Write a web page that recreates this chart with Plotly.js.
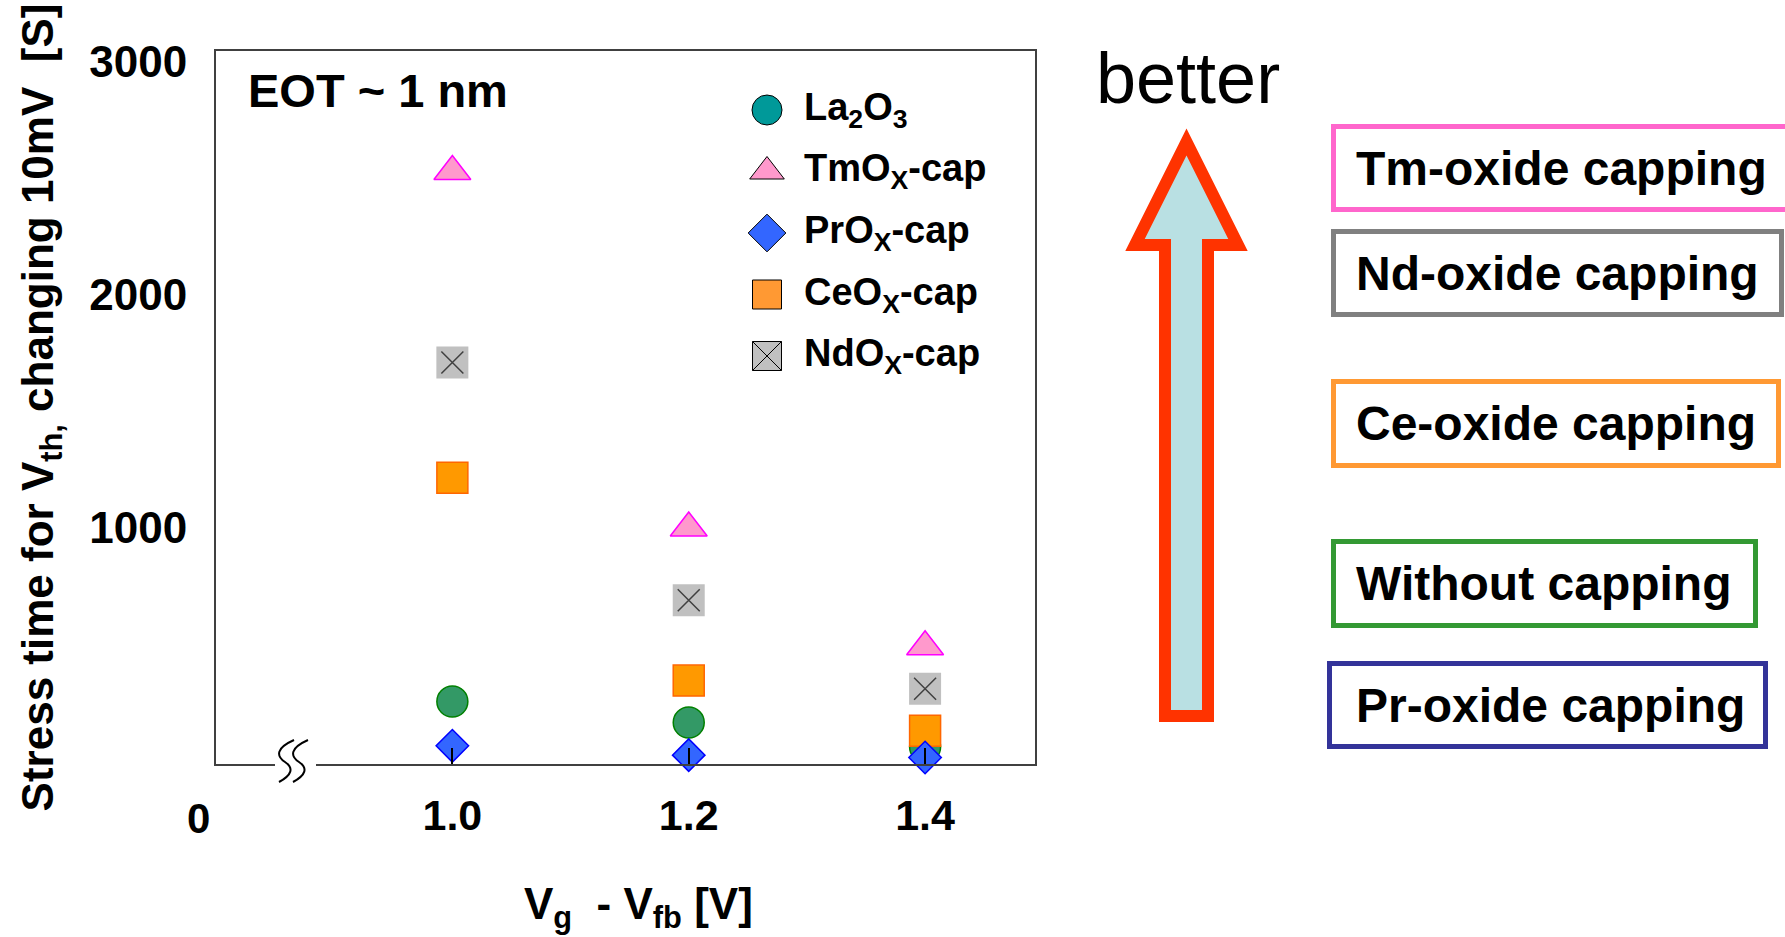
<!DOCTYPE html>
<html>
<head>
<meta charset="utf-8">
<script src="https://cdn.plot.ly/plotly-3.0.1.min.js"></script>
<style>html,body{margin:0;padding:0;background:#fff}#chart{width:1785px;height:937px}</style>
</head>
<body>
<div id="chart"></div>
<script>
// ---------------- data ----------------
const xVoltage = [1.0, 1.2, 1.4];
const xTickLabels = ['1.0', '1.2', '1.4'];
const yTickVals = [1000, 2000, 3000];
const yTickLabels = ['1000', '2000', '3000'];
const la2o3 = [255, 165, 60];
const tmox = [2530, 1000, 490];
const ceox = [1215, 345, 130];
const ndox = [1710, 690, 310];
const prox = [65, 25, 15];
const legendNames = ['La<sub>2</sub>O<sub>3</sub>', 'TmO<sub>X</sub>-cap', 'PrO<sub>X</sub>-cap', 'CeO<sub>X</sub>-cap', 'NdO<sub>X</sub>-cap'];
const rankingLabels = ['Tm-oxide capping', 'Nd-oxide capping', 'Ce-oxide capping', 'Without capping', 'Pr-oxide capping'];
const xTitle = 'V<sub>g</sub>\u00a0\u00a0- V<sub>fb</sub> [V]';
const yTitle = 'Stress time for V<sub>th,</sub> changing 10mV\u00a0\u00a0[S]\u00a0';

// ---------------- geometry helpers (pixel -> paper) ----------------
const L = 216, R = 1035, T = 51, B = 764;
const px = x => (x - L) / (R - L);
const py = y => (B - y) / (B - T);
const FONT = 'Liberation Sans, Arial, sans-serif';

// ---------------- traces ----------------
const common = {type: 'scatter', mode: 'markers', x: xVoltage, cliponaxis: false, showlegend: false, hoverinfo: 'skip'};
const traces = [
  Object.assign({}, common, {name: 'La2O3', y: la2o3,
    marker: {symbol: 'circle', size: 31, color: '#339966', opacity: 1, line: {color: '#008000', width: 1.5}}}),
  Object.assign({}, common, {name: 'TmOx-cap', y: tmox,
    marker: {symbol: 'triangle-up', size: 32, color: '#ff99cc', opacity: 1, line: {color: '#ff00ff', width: 1.5}}}),
  Object.assign({}, common, {name: 'CeOx-cap', y: ceox,
    marker: {symbol: 'square', size: 31, color: '#ff9900', opacity: 1, line: {color: '#ff6600', width: 1.5}}}),
  Object.assign({}, common, {name: 'NdOx-cap', y: ndox,
    marker: {symbol: 'square', size: 32, color: '#c0c0c0', opacity: 1, line: {color: '#c0c0c0', width: 0}}}),
  Object.assign({}, common, {name: 'NdOx-cap X', y: ndox,
    marker: {symbol: 'x-thin-open', size: 22, color: '#404040', opacity: 1, line: {color: '#404040', width: 1.5}}}),
  Object.assign({}, common, {name: 'PrOx-cap', y: prox,
    marker: {symbol: 'diamond', size: 25, color: '#3366ff', opacity: 1, line: {color: '#0000ff', width: 1.5}}}),
  // custom legend symbols (hidden subplot)
  {type: 'scatter', mode: 'markers', xaxis: 'x2', yaxis: 'y2', cliponaxis: false, showlegend: false, hoverinfo: 'skip',
    x: legendNames.map(() => 0), y: legendNames,
    marker: {
      symbol: ['circle', 'triangle-up', 'diamond', 'square', 'square-x'],
      size: [30, 30, 29, 29, 29],
      opacity: 1,
      color: ['#009999', '#ff99cc', '#3366ff', '#ff9933', '#c0c0c0'],
      line: {color: '#000000', width: 1}
    }}
];

// ---------------- shapes ----------------
const boxes = [
  {x0: 1331, x1: 1800, y0: 124, y1: 212, c: '#ff66cc'},
  {x0: 1331, x1: 1784, y0: 229, y1: 317, c: '#808080'},
  {x0: 1331, x1: 1781, y0: 379, y1: 468, c: '#ff9933'},
  {x0: 1331, x1: 1758, y0: 539, y1: 628, c: '#339933'},
  {x0: 1327, x1: 1768, y0: 661, y1: 749, c: '#333399'}
];
const lw = 5;
const shapes = boxes.map(b => ({
  type: 'rect', xref: 'paper', yref: 'paper', layer: 'above',
  x0: px(b.x0 + lw / 2), x1: px(b.x1 - lw / 2), y0: py(b.y0 + lw / 2), y1: py(b.y1 - lw / 2),
  line: {color: b.c, width: lw}, fillcolor: 'rgba(0,0,0,0)'
}));

function pathFrom(cmds) {
  return cmds.map(c => {
    const pts = [];
    for (let i = 1; i < c.length; i += 2) pts.push(px(c[i]).toFixed(5) + ',' + py(c[i + 1]).toFixed(5));
    return c[0] + ' ' + pts.join(' ');
  }).join(' ');
}
// arrow
shapes.push({
  type: 'path', xref: 'paper', yref: 'paper', layer: 'above',
  path: pathFrom([['M', 1186.5, 142], ['L', 1238, 245], ['L', 1208, 245], ['L', 1208, 716], ['L', 1165, 716], ['L', 1165, 245], ['L', 1135, 245]]) + ' Z',
  fillcolor: '#b9e0e3', line: {color: '#ff3300', width: 12}
});
// axis break
shapes.push({type: 'rect', xref: 'paper', yref: 'paper', layer: 'above',
  x0: px(275), x1: px(316), y0: py(769), y1: py(759), fillcolor: '#ffffff', line: {width: 0}});
[0, 14].forEach(d => {
  shapes.push({type: 'path', xref: 'paper', yref: 'paper', layer: 'above',
    path: pathFrom([['M', 294 + d, 740], ['C', 276 + d, 748, 276 + d, 756, 285 + d, 762], ['C', 294 + d, 768, 292 + d, 775, 279 + d, 782]]),
    line: {color: '#000000', width: 2}, fillcolor: 'rgba(0,0,0,0)'});
});

// ---------------- annotations ----------------
const bold = (size) => ({family: FONT, size: size, color: '#000', weight: 'bold'});
const annotations = [
  {text: 'EOT ~ 1 nm', xref: 'paper', yref: 'paper', x: px(246), y: py(90.5), xanchor: 'left', yanchor: 'middle', showarrow: false, font: bold(47)},
  {text: '0', xref: 'paper', yref: 'paper', x: px(198), y: py(818), xanchor: 'center', yanchor: 'middle', showarrow: false, font: bold(42)},
  {text: 'better', xref: 'paper', yref: 'paper', x: px(1188), y: py(78), xanchor: 'center', yanchor: 'middle', showarrow: false,
    font: {family: FONT, size: 72, color: '#000'}},
  {text: xTitle, xref: 'paper', yref: 'paper', x: px(638), y: py(907), xanchor: 'center', yanchor: 'middle', showarrow: false, font: bold(44)}
];
legendNames.forEach((n, i) => annotations.push({
  text: n, xref: 'paper', yref: 'y2', x: px(802), y: i, xanchor: 'left', yanchor: 'middle', showarrow: false, font: bold(38)
}));
rankingLabels.forEach((t, i) => annotations.push({
  text: t, xref: 'paper', yref: 'paper', x: px(1354), y: py((boxes[i].y0 + boxes[i].y1) / 2), xanchor: 'left', yanchor: 'middle',
  showarrow: false, font: bold(48)
}));

// ---------------- layout ----------------
const layout = {
  width: 1785, height: 937,
  margin: {l: L, r: 1785 - R, t: T, b: 937 - B, pad: 0},
  paper_bgcolor: '#ffffff', plot_bgcolor: 'rgba(0,0,0,0)',
  showlegend: false,
  font: {family: FONT, color: '#000'},
  xaxis: {
    range: [0.8, 1.493], tickvals: xVoltage, ticktext: xTickLabels,
    ticks: 'inside', ticklen: 16, tickwidth: 2, tickcolor: '#000',
    showline: true, mirror: true, linecolor: '#404040', linewidth: 2,
    showgrid: false, zeroline: false, ticklabelstandoff: 12,
    tickfont: bold(43)
  },
  yaxis: {
    range: [-13, 3047], tickvals: yTickVals, ticktext: yTickLabels,
    ticks: '', showline: true, mirror: true, linecolor: '#404040', linewidth: 2,
    showgrid: false, zeroline: false, ticklabelstandoff: 18,
    tickfont: bold(44),
    title: {text: yTitle, font: bold(44), standoff: 22}
  },
  xaxis2: {domain: [px(717), px(1017)], range: [-1, 5], anchor: 'y2', visible: false, fixedrange: true},
  yaxis2: {domain: [py(386.75), py(79.25)], type: 'category', categoryorder: 'array', categoryarray: legendNames,
    range: [4.5, -0.5], anchor: 'x2', visible: false, fixedrange: true},
  shapes: shapes,
  annotations: annotations
};

Plotly.newPlot('chart', traces, layout, {staticPlot: true, displayModeBar: false});
</script>
</body>
</html>
